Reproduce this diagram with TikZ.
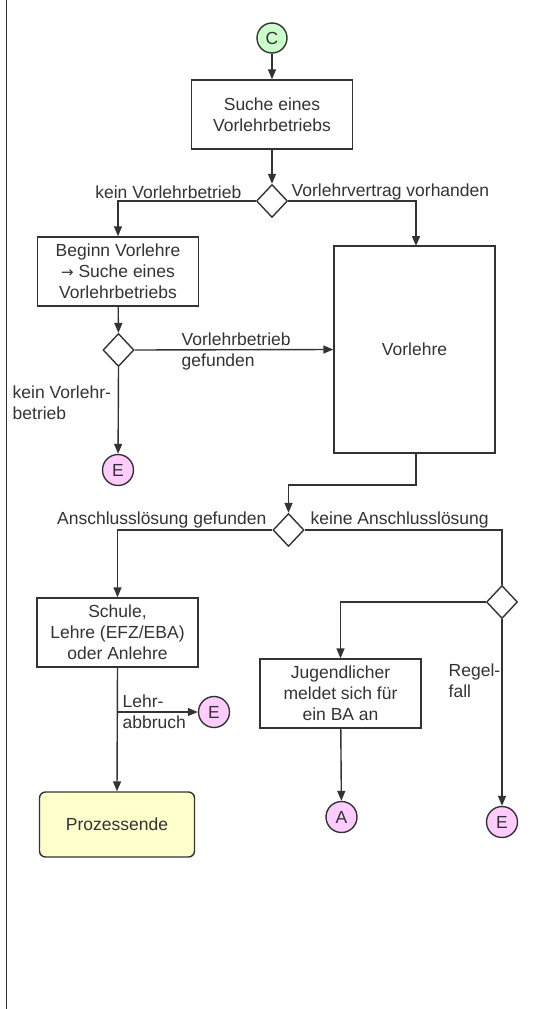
\documentclass[tikz,border=0pt]{standalone}
\usepackage{fontspec}
\setmainfont{Liberation Sans}
\newfontfamily\symfont{DejaVu Sans}
\usepackage{tikz}
\usetikzlibrary{shapes.geometric, arrows.meta}
\definecolor{ink}{HTML}{333333}
\definecolor{conngreen}{HTML}{CCFFCC}
\definecolor{connpink}{HTML}{FFCCFF}
\definecolor{endyellow}{HTML}{FFFFCC}
\tikzstyle{connector} = [circle, minimum size=31pt, inner sep=0pt, text centered, draw=ink, fill=connpink]
\tikzstyle{process} = [rectangle, minimum width=161pt, minimum height=69pt, align=center, draw=ink]
\tikzstyle{startstop} = [rectangle, rounded corners=6pt, minimum width=155pt, minimum height=65pt, align=center, draw=ink, fill=endyellow]
\tikzstyle{decision} = [diamond, minimum width=31pt, minimum height=33pt, inner sep=0pt, draw=ink, fill=white]
\tikzstyle{lbl} = [inner sep=0pt, align=left]
\tikzstyle{arrow} = [->, >={Triangle[length=10pt,width=8pt]}]

\begin{document}
\begin{tikzpicture}[x=1pt, y=-1pt, line width=1.4pt, color=ink, text=ink,
  font=\fontsize{17.5}{21}\selectfont]

  \useasboundingbox (0,0) rectangle (544,1009);
  \draw[line width=1.2pt] (6.5,0) -- (6.5,1009);

  \node (start) [connector, fill=conngreen, minimum size=30pt] at (272,38) {C};
  \node (suche) [process] at (272,114.5) {Suche eines\\Vorlehrbetriebs};
  \node (dec1) [decision] at (272,201) {};
  \node (beginn) [process] at (118,271.5) {Beginn Vorlehre\\{\symfont\fontsize{15}{21}\selectfont →} Suche eines\\Vorlehrbetriebs};
  \node (vorlehre) [process, minimum height=207pt] at (414.5,349.5) {Vorlehre};
  \node (dec2) [decision] at (118.5,350) {};
  \node (endA) [connector] at (118,470) {E};
  \node (dec3) [decision] at (288.5,530) {};
  \node (schule) [process] at (117.5,632.5) {Schule,\\Lehre (EFZ/EBA)\\oder Anlehre};
  \node (dec4) [decision] at (502,602) {};
  \node (endB) [connector] at (214,712) {E};
  \node (ende) [startstop] at (117,824.5) {Prozessende};
  \node (meldet) [process] at (340.5,693.5) {Jugendlicher\\meldet sich für\\ein BA an};
  \node (anA) [connector] at (341.5,817) {A};
  \node (endC) [connector] at (502,822) {E};

  % labels
  \node (lkein) [lbl, anchor=east] at (242,192) {kein Vorlehrbetrieb};
  \node (lvertrag) [lbl, anchor=west] at (291,192) {Vorlehrvertrag vorhanden};
  \node (lgef) [lbl, anchor=west] at (181,351) {Vorlehrbetrieb\\gefunden};
  \node (lkein2) [lbl, anchor=west] at (12,403) {kein Vorlehr-\\betrieb};
  \node (lansch) [lbl, anchor=east] at (267,520) {Anschlusslösung gefunden};
  \node (lkeine) [lbl, anchor=west] at (310,520) {keine Anschlusslösung};
  \node (labbr) [lbl, anchor=west] at (122,712) {Lehr-\\abbruch};
  \node (lregel) [lbl, anchor=west] at (448,681) {Regel-\\fall};

  \coordinate (abbr) at (117,712);

  \draw [arrow] (start) -- (suche);
  \draw [arrow] (suche) -- (dec1);
  \draw [arrow] (dec1.west) -| (beginn.north);
  \draw [arrow] (dec1.east) -| (416,246);
  \draw [arrow] (beginn) -- (dec2);
  \draw [arrow] (dec2.east) -- (vorlehre.west);
  \draw [arrow] (dec2.south) -- (endA);
  \draw [arrow] (416,453) -- ++(0,32) -| (dec3.north);
  \draw [arrow] (dec3.west) -| (schule.north);
  \draw (dec3.east) -| (dec4.north);
  \draw [arrow] (schule.south) -- (ende.north);
  \draw [arrow] (abbr) -- (endB);
  \draw [arrow] (dec4.west) -| (meldet.north);
  \draw [arrow] (meldet) -- (anA);
  \draw [arrow] (dec4.south) -- (endC);

\end{tikzpicture}
\end{document}
